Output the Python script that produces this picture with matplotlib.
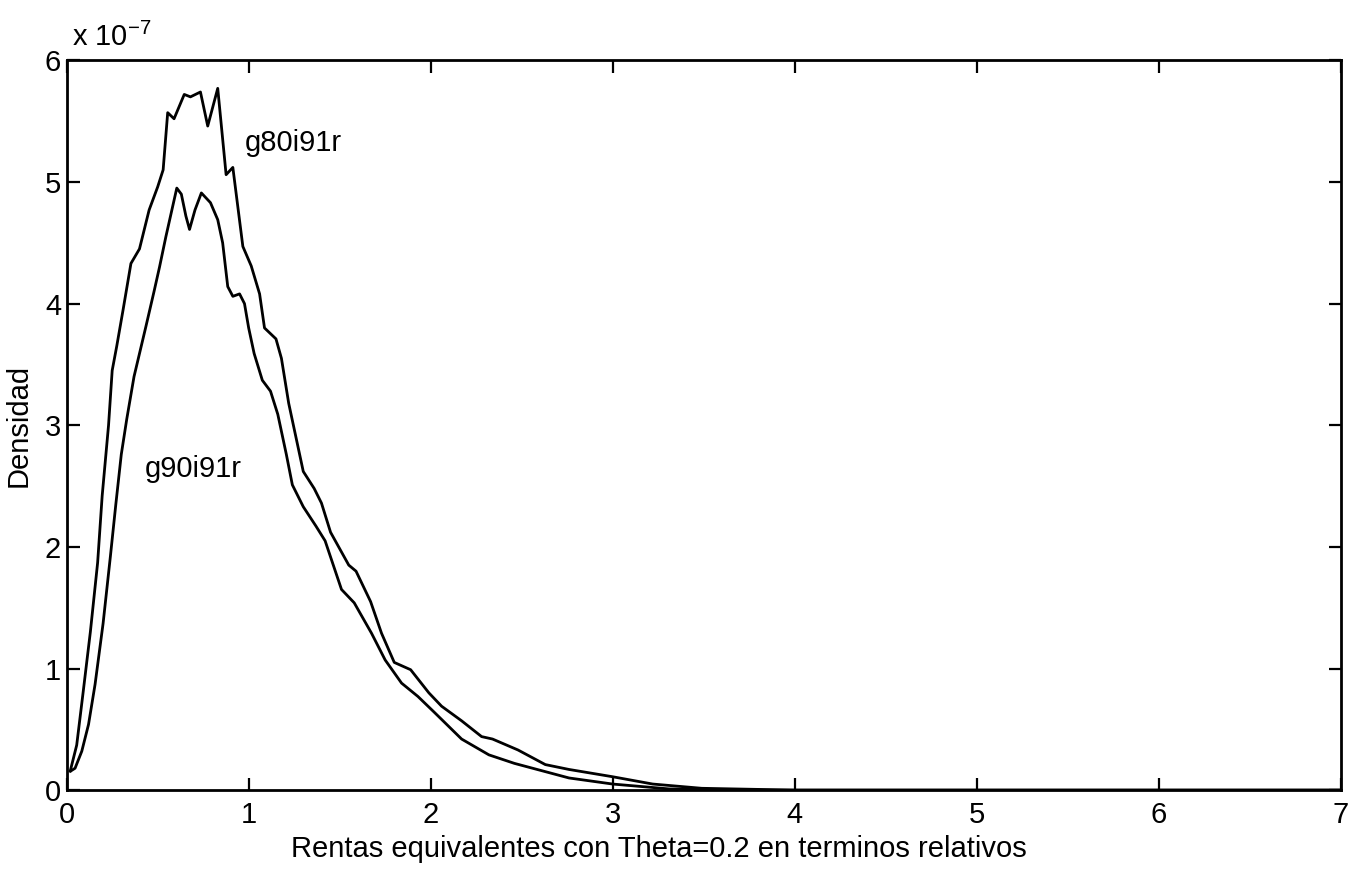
import matplotlib
matplotlib.use("Agg")
import matplotlib.pyplot as plt
import numpy as np

plt.rcParams['font.family'] = ['Liberation Sans', 'DejaVu Sans']
plt.rcParams['mathtext.default'] = 'regular'

# density values in units of 1e-7
x_g80 = [0.02, 0.055, 0.09, 0.13, 0.17, 0.195, 0.23, 0.25, 0.275, 0.31, 0.353, 0.40, 0.453, 0.50,
         0.53, 0.555, 0.59, 0.646, 0.68, 0.735, 0.775, 0.83, 0.876, 0.913, 0.968, 1.014, 1.06,
         1.087, 1.15, 1.18, 1.22, 1.30, 1.36, 1.40, 1.45, 1.55, 1.59, 1.67, 1.73, 1.80, 1.89,
         1.99, 2.06, 2.17, 2.28, 2.34, 2.48, 2.63, 2.76, 3.00, 3.22, 3.49, 4.0, 7.0]
y_g80 = [0.16, 0.37, 0.80, 1.30, 1.87, 2.42, 3.00, 3.45, 3.65, 3.95, 4.33, 4.45, 4.77, 4.96,
         5.10, 5.57, 5.52, 5.72, 5.70, 5.74, 5.46, 5.77, 5.06, 5.12, 4.47, 4.31, 4.08,
         3.80, 3.71, 3.55, 3.18, 2.62, 2.48, 2.36, 2.12, 1.85, 1.80, 1.55, 1.29, 1.05, 0.99,
         0.80, 0.69, 0.57, 0.44, 0.42, 0.33, 0.21, 0.17, 0.11, 0.05, 0.015, 0.0, 0.0]

x_g90 = [0.02, 0.046, 0.083, 0.12, 0.156, 0.20, 0.24, 0.27, 0.30, 0.33, 0.37, 0.435, 0.48, 0.51,
         0.545, 0.575, 0.605, 0.63, 0.655, 0.675, 0.705, 0.74, 0.79, 0.83, 0.857, 0.885, 0.913,
         0.95, 0.977, 1.00, 1.03, 1.075, 1.12, 1.16, 1.207, 1.24, 1.30, 1.37, 1.42, 1.51, 1.58,
         1.675, 1.75, 1.84, 1.93, 2.02, 2.17, 2.32, 2.46, 2.61, 2.76, 3.00, 3.31, 3.68, 7.0]
y_g90 = [0.155, 0.18, 0.32, 0.54, 0.87, 1.37, 1.92, 2.35, 2.76, 3.05, 3.40, 3.81, 4.10, 4.30,
         4.55, 4.75, 4.95, 4.90, 4.72, 4.61, 4.77, 4.91, 4.83, 4.69, 4.50, 4.14, 4.06,
         4.08, 4.00, 3.80, 3.59, 3.37, 3.28, 3.09, 2.76, 2.51, 2.33, 2.17, 2.05, 1.65, 1.54,
         1.29, 1.07, 0.88, 0.77, 0.64, 0.42, 0.29, 0.22, 0.16, 0.10, 0.05, 0.01, 0.0, 0.0]

x_ticks = [0, 1, 2, 3, 4, 5, 6, 7]
y_ticks = [0, 1, 2, 3, 4, 5, 6]

FS = 21

fig = plt.figure(figsize=(13.61, 8.75), dpi=100)
ax = fig.add_axes([0.049, 0.097, 0.936, 0.834])

ax.plot(x_g80, y_g80, color='black', lw=2.0, solid_joinstyle='round')
ax.plot(x_g90, y_g90, color='black', lw=2.0, solid_joinstyle='round')

ax.set_xlim(0, 7)
ax.set_ylim(0, 6)
ax.set_xticks(x_ticks)
ax.set_yticks(y_ticks)
ax.tick_params(direction='in', length=9, width=1.6, top=True, right=True,
               labelsize=FS)
ax.tick_params(axis='x', pad=8)
ax.tick_params(axis='y', pad=4)
for s in ax.spines.values():
    s.set_linewidth(2.0)

ax.set_xlabel('Rentas equivalentes con Theta=0.2 en terminos relativos', fontsize=FS)
ax.xaxis.set_label_coords(0.465, -0.062)
ax.set_ylabel('Densidad', fontsize=FS)
ax.yaxis.set_label_coords(-0.027, 0.5)

ax.text(0.004, 1.012, r'x 10$^{-7}$', transform=ax.transAxes, fontsize=FS,
        ha='left', va='bottom')

ax.text(0.98, 5.32, 'g80i91r', fontsize=FS, ha='left', va='center')
ax.text(0.43, 2.64, 'g90i91r', fontsize=FS, ha='left', va='center')

fig.savefig('out.png', dpi=100)
